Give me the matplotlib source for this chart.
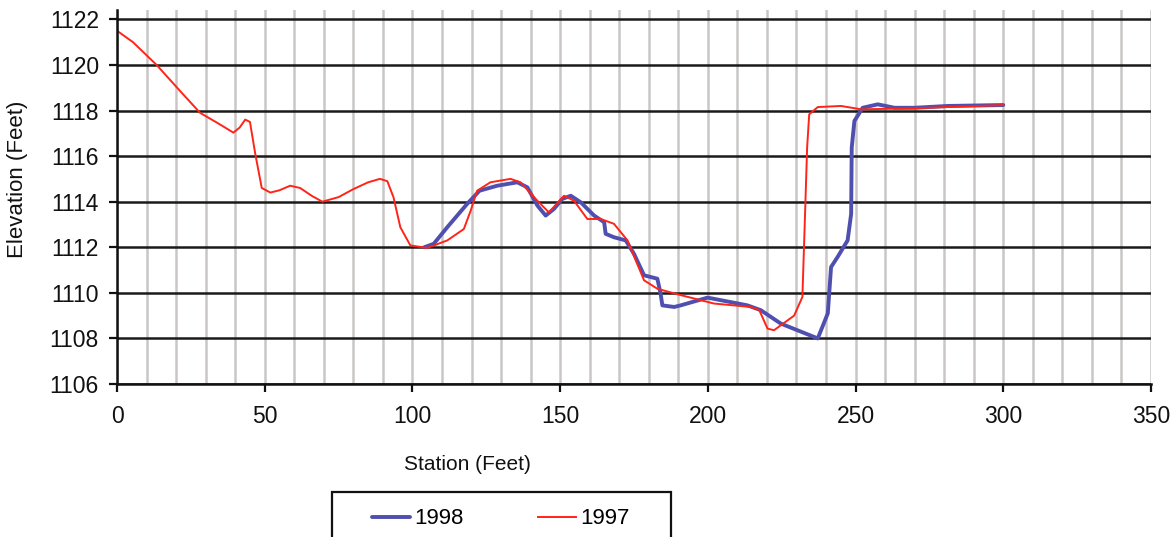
import numpy as np
import matplotlib
matplotlib.use("Agg")
import matplotlib.pyplot as plt
from matplotlib.patches import Rectangle

plt.rcParams['font.family'] = ['Liberation Sans', 'DejaVu Sans']

# 1997 survey (red)
red_x = [0, 5.4, 13.4, 21.4, 28.1, 33.8, 39.4, 41.5, 43.4, 45, 46.8, 49, 51.9, 55,
         58.6, 62, 66, 69.5, 75, 80, 85, 89, 91.5, 93.6, 95.9, 99.3, 105, 111.8,
         117.4, 119.7, 121.9, 126.4, 133.2, 136.6, 142.3, 146.2, 151.3, 154.7, 159.2,
         163.7, 168.2, 172.8, 178.4, 182.9, 190.8, 202.1, 214.6, 217.4, 220.2, 222.4,
         229.2, 232, 232.9, 233.6, 234.3, 237.2, 245.1, 251.9, 270, 300]
red_y = [1121.5, 1121.0, 1120.0, 1118.85, 1117.9, 1117.47, 1117.03, 1117.25, 1117.6,
         1117.5, 1116.1, 1114.6, 1114.4, 1114.5, 1114.7, 1114.6, 1114.25, 1114.0,
         1114.2, 1114.55, 1114.85, 1115.0, 1114.9, 1114.19, 1112.88, 1112.08, 1111.97,
         1112.3, 1112.8, 1113.6, 1114.48, 1114.85, 1115.0, 1114.85, 1114.04, 1113.53,
         1114.26, 1114.04, 1113.24, 1113.24, 1113.03, 1112.3, 1110.55, 1110.18,
         1109.9, 1109.53, 1109.38, 1109.24, 1108.43, 1108.36, 1109.0, 1109.82,
         1113.46, 1116.37, 1117.83, 1118.15, 1118.2, 1118.05, 1118.1, 1118.24]

# 1998 survey (blue)
blue_x = [104, 107.2, 111.8, 118.5, 122.7, 128.7, 135.5, 138.9, 142.3, 145.1, 147.9,
          150.7, 153.6, 157, 161.5, 164.9, 165.4, 168.2, 172.2, 175, 178.4, 182.9,
          184, 184.6, 188.6, 190.8, 199.9, 213.4, 217.9, 224.7, 237.2, 240.6, 241.7,
          243.9, 247.3, 248.5, 248.7, 249.6, 252.4, 257.5, 263.2, 270, 281.3, 300]
blue_y = [1112.0, 1112.15, 1112.88, 1113.9, 1114.48, 1114.7, 1114.85, 1114.63,
          1113.83, 1113.39, 1113.68, 1114.12, 1114.26, 1113.97, 1113.39, 1113.1,
          1112.59, 1112.44, 1112.3, 1111.71, 1110.77, 1110.62, 1109.97, 1109.45,
          1109.38, 1109.45, 1109.79, 1109.45, 1109.24, 1108.65, 1108.0, 1109.1,
          1111.13, 1111.57, 1112.3, 1113.46, 1116.37, 1117.54, 1118.12, 1118.27,
          1118.12, 1118.12, 1118.2, 1118.24]

x_ticks = [0, 50, 100, 150, 200, 250, 300, 350]
y_ticks = [1106, 1108, 1110, 1112, 1114, 1116, 1118, 1120, 1122]

W, H = 1176, 537
fig = plt.figure(figsize=(W / 100, H / 100), dpi=100)
ax = fig.add_axes([117 / W, 1 - 384 / H, (1151 - 117) / W, (384 - 10) / H])

ax.set_xlim(0, 350)
ax.set_ylim(1106, 1122.41)
ax.set_xticks(x_ticks)
ax.set_yticks(y_ticks)
ax.set_xticks(np.arange(0, 351, 10), minor=True)

# grid: light gray verticals every 10, black horizontals every 2
ax.grid(which='both', axis='x', color='#cac6c6', linewidth=1.8)
ax.grid(which='major', axis='y', color='#1a1a1a', linewidth=1.8)
ax.set_axisbelow(True)

for s in ['top', 'right']:
    ax.spines[s].set_visible(False)
for s in ['left', 'bottom']:
    ax.spines[s].set_linewidth(1.8)
    ax.spines[s].set_color('#111111')

ax.tick_params(axis='x', which='minor', length=0)
ax.tick_params(axis='both', which='major', direction='out', length=6, width=1.6,
               color='#111111', labelsize=16.5, labelcolor='#111111')
ax.tick_params(axis='x', which='major', pad=9)
ax.tick_params(axis='y', which='major', pad=7)

l98, = ax.plot(blue_x, blue_y, color='#4f4fb0', linewidth=2.8, label='1998',
               solid_joinstyle='round', solid_capstyle='round')
l97, = ax.plot(red_x, red_y, color='#ff2418', linewidth=1.4, label='1997',
               solid_joinstyle='round')

fig.text(18 / W, 1 - 179 / H, 'Elevation (Feet)', fontsize=16, color='#111111',
         rotation=90, ha='center', va='center')
fig.text(467 / W, 1 - 465 / H, 'Station (Feet)', fontsize=15, color='#111111',
         ha='center', va='center')

# legend box (runs off the bottom edge like the original)
fig.patches.append(Rectangle((332 / W, -0.05), (671 - 332) / W, 1 - 492 / H + 0.05,
                             transform=fig.transFigure, fill=False,
                             edgecolor='#111111', linewidth=1.6))
fs = 16
px = fs * 100 / 72
leg = fig.legend(handles=[l98, l97], loc='center left', ncol=2,
                 bbox_to_anchor=(372 / W, 1 - 519 / H), frameon=False,
                 fontsize=fs, borderpad=0, borderaxespad=0,
                 handlelength=38 / px, handletextpad=4 / px, columnspacing=75 / px)

fig.savefig('out.png', dpi=100, facecolor='white')
